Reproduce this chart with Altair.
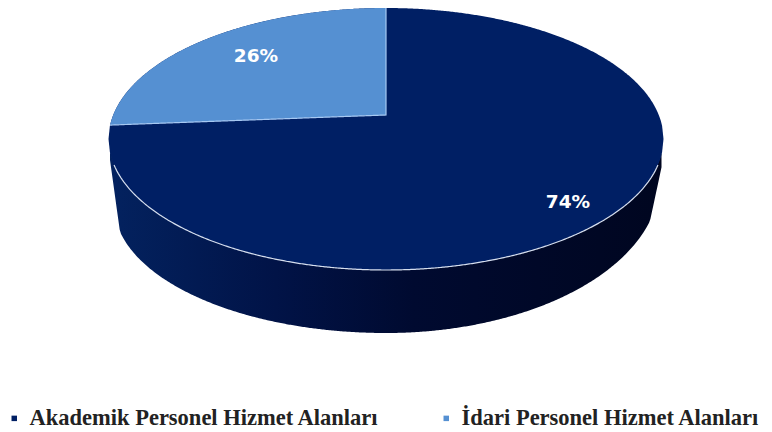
import math
import numpy as np
import pandas as pd
import altair as alt

categories = ["Akademik Personel Hizmet Alanları", "İdari Personel Hizmet Alanları"]
shares = [74, 26]
colors = ["#001f64", "#5590d2"]

# Drawing geometry of the tilted disc, in page pixels
W, H = 756, 424
CX, CY, A, B = 386.0, 139.0, 277.5, 131.0
APEX_Y = 115.0
TILT_DEG = 9.7  # perspective shift of the slice edge


def top_arc(x):
    return B * np.sqrt(np.clip(1 - ((x - CX) / A) ** 2, 0, 1))


def bottom_edge(x):
    left = 205 + 128 * np.sqrt(np.clip(1 - ((x - CX) / 272) ** 2, 0, 1))
    right = 180 + 153 * np.sqrt(np.clip(1 - ((x - CX) / 274) ** 2, 0, 1))
    left = np.where(x < 120, np.interp(x, [110, 120], [160, 232]), left)
    right = np.where(x > 650, np.interp(x, [650, 662], [221, 165]), right)
    return np.where(x < CX, left, right)


xs = np.linspace(CX - A, CX + A, 401)

# Side wall
side_x = np.linspace(CX - A + 1.5, CX + A - 2, 401)
side = pd.DataFrame({
    "x": side_x,
    "y": CY + top_arc(side_x) - 2,
    "y2": np.maximum(bottom_edge(side_x), CY + top_arc(side_x)),
})

# Top face: the large slice is the full ellipse, the small one is painted over it
theta = math.radians(shares[1] / 100 * 360 - TILT_DEG)
end_x = CX - A * math.sin(theta)
end_y = CY - B * math.cos(theta)
sx = np.linspace(end_x, CX, 201)
frames = [
    pd.DataFrame({"x": xs, "y": CY - top_arc(xs), "y2": CY + top_arc(xs), "cat": categories[0]}),
    pd.DataFrame({
        "x": sx,
        "y": CY - top_arc(sx),
        "y2": end_y + (APEX_Y - end_y) * (sx - end_x) / (CX - end_x),
        "cat": categories[1],
    }),
]
top = pd.concat(frames, ignore_index=True)

rim = pd.DataFrame({"x": xs[4:-4], "y": CY + top_arc(xs[4:-4])})

edge = pd.DataFrame({
    "x": list(sx) + [CX, CX],
    "y": list(end_y + (APEX_Y - end_y) * (sx - end_x) / (CX - end_x)) + [APEX_Y, CY - B],
    "o": range(len(sx) + 2),
})

labels = pd.DataFrame({
    "x": [568, 256],
    "y": [202, 56],
    "t": [f"{v}%" for v in shares],
})

X = alt.X("x:Q", axis=None, scale=alt.Scale(domain=[8, 8 + W], nice=False, zero=False))
Y = alt.Y("y:Q", axis=None, scale=alt.Scale(domain=[8 + H, 8], nice=False, zero=False))

side_layer = alt.Chart(side).mark_area(
    color=alt.Gradient(
        gradient="linear",
        x1=0, x2=1, y1=0, y2=0,
        stops=[
            alt.GradientStop(color="#03225f", offset=0),
            alt.GradientStop(color="#011347", offset=0.3),
            alt.GradientStop(color="#000a30", offset=0.55),
            alt.GradientStop(color="#000620", offset=1),
        ],
    )
).encode(x=X, y=Y, y2="y2:Q")

top_layer = alt.Chart(top).mark_area().encode(
    x=X,
    y=Y,
    y2="y2:Q",
    color=alt.Color(
        "cat:N",
        scale=alt.Scale(domain=categories, range=colors),
        legend=alt.Legend(
            title=None,
            orient="none",
            legendX=-5,
            legendY=399,
            padding=0,
            direction="horizontal",
            columns=2,
            columnPadding=56,
            symbolType="square",
            symbolSize=30,
            symbolStrokeWidth=0,
            labelFont="Liberation Serif",
            labelFontWeight="bold",
            labelFontSize=22.5,
            labelColor="#222222",
            labelLimit=500,
            labelOffset=4,
        ),
    ),
)

rim_layer = alt.Chart(rim).mark_line(color="#d5deee", strokeWidth=1.2).encode(x=X, y=Y)
edge_layer = alt.Chart(edge).mark_line(color="#a6c8f2", strokeWidth=1.2).encode(
    x=X, y=Y, order="o:Q"
)
text_layer = alt.Chart(labels).mark_text(
    font="DejaVu Sans", fontWeight="bold", fontSize=18.5, color="white"
).encode(x=X, y=Y, text="t:N")

chart = alt.layer(side_layer, top_layer, rim_layer, edge_layer, text_layer).properties(
    width=W,
    height=H,
    padding=0,
    autosize=alt.AutoSizeParams(type="none"),
).configure_view(stroke=None)

chart.save("out.html", embed_options={"renderer": "svg", "actions": False})
